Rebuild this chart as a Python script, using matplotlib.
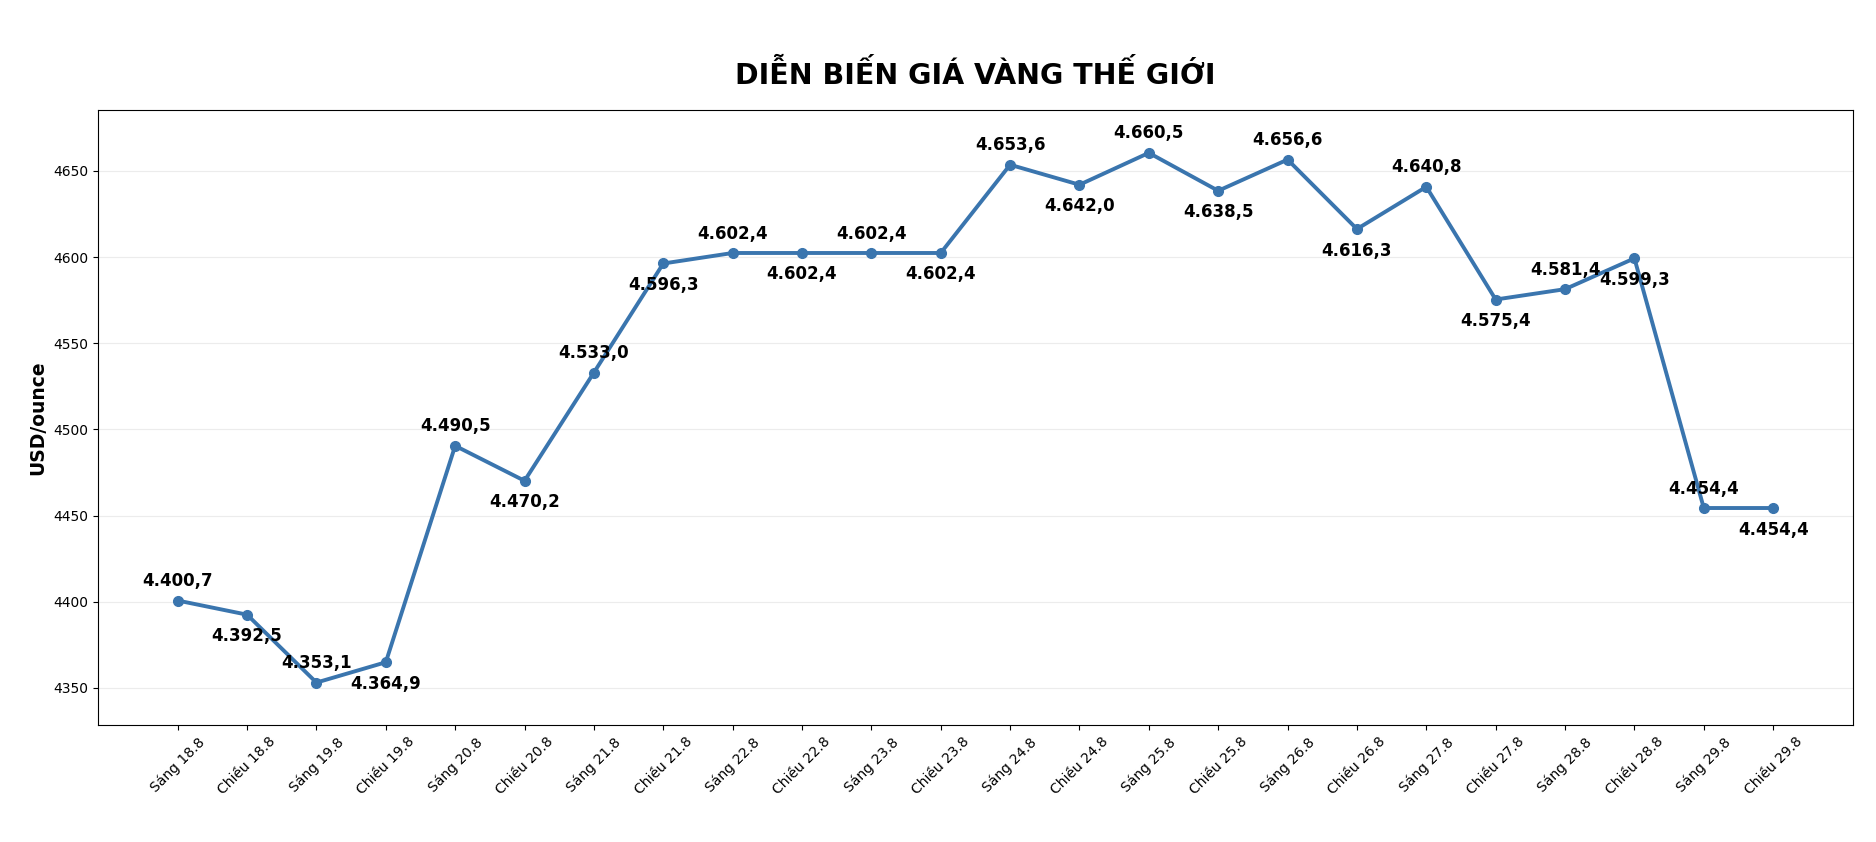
import matplotlib.pyplot as plt

categories = [
    "Sáng 18.8", "Chiều 18.8", "Sáng 19.8", "Chiều 19.8",
    "Sáng 20.8", "Chiều 20.8", "Sáng 21.8", "Chiều 21.8",
    "Sáng 22.8", "Chiều 22.8", "Sáng 23.8", "Chiều 23.8",
    "Sáng 24.8", "Chiều 24.8", "Sáng 25.8", "Chiều 25.8",
    "Sáng 26.8", "Chiều 26.8", "Sáng 27.8", "Chiều 27.8",
    "Sáng 28.8", "Chiều 28.8", "Sáng 29.8", "Chiều 29.8",
]
prices = [
    4400.7, 4392.5, 4353.1, 4364.9,
    4490.5, 4470.2, 4533.0, 4596.3,
    4602.4, 4602.4, 4602.4, 4602.4,
    4653.6, 4642.0, 4660.5, 4638.5,
    4656.6, 4616.3, 4640.8, 4575.4,
    4581.4, 4599.3, 4454.4, 4454.4,
]

MAU = "#3a75ae"


def fmt_vn(v):
    # 4400.7 -> 4.400,7
    s = f"{v:,.1f}"
    return s.replace(",", "X").replace(".", ",").replace("X", ".")


fig = plt.figure(figsize=(18.76, 8.42), dpi=100)
ax = fig.add_axes([0.0522, 0.139, 0.9355, 0.7304])

x = list(range(len(categories)))
ax.plot(x, prices, color=MAU, linewidth=2.8, marker="o", markersize=7)

# nhãn xen kẽ trên / dưới
for i, v in enumerate(prices):
    if i % 2 == 0:
        ax.annotate(fmt_vn(v), (i, v), textcoords="offset points", xytext=(0, 7.5),
                    ha="center", va="bottom", fontsize=12, fontweight="bold")
    else:
        ax.annotate(fmt_vn(v), (i, v), textcoords="offset points", xytext=(0, -9),
                    ha="center", va="top", fontsize=12, fontweight="bold")

ax.set_xticks(x)
ax.set_xticklabels(categories, rotation=45, ha="center", fontsize=10)
ax.tick_params(axis="y", labelsize=10)
ax.set_ylim(min(prices) - 24.6, max(prices) + 24.9)
ax.grid(axis="y", color="#ececec", linewidth=0.8)
ax.set_axisbelow(True)

ax.set_ylabel("USD/ounce", fontsize=13.5, fontweight="bold")
ax.set_title("DIỄN BIẾN GIÁ VÀNG THẾ GIỚI", fontsize=20.5, fontweight="bold", pad=19)

fig.savefig("out.png", dpi=100)
